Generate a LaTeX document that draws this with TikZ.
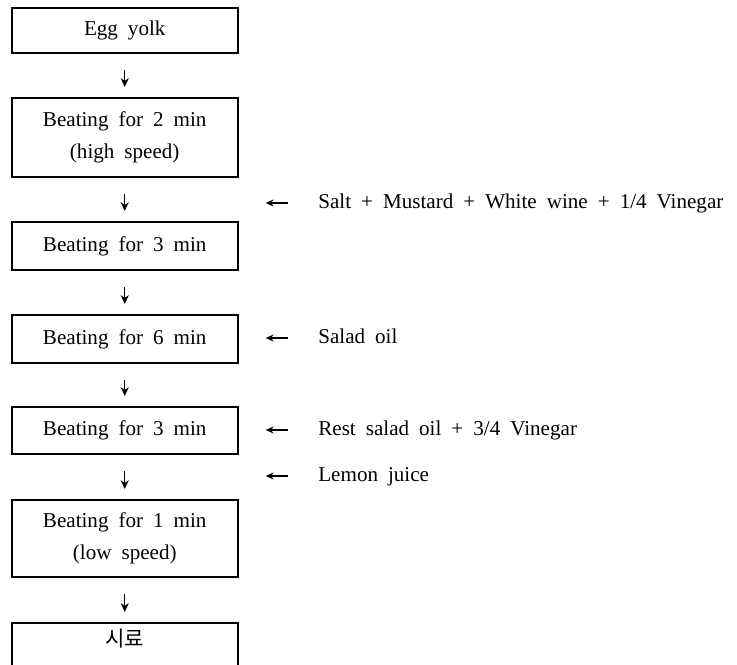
\documentclass[tikz,border=0pt]{standalone}
\usepackage{fontspec}
\setmainfont{Liberation Serif}[WordSpace=1.9]
\newfontfamily\korfont{Noto Sans CJK KR}
\usetikzlibrary{positioning, calc, arrows.meta}

\begin{document}
\begin{tikzpicture}[
        font=\fontsize{12}{18.5}\selectfont,
        stepbox/.style={draw, line width=1.1pt, minimum width=4.52cm, inner sep=0pt, align=center},
        addtext/.style={anchor=west, inner sep=0pt, text height=8pt, text depth=2pt},
        flow/.style={line width=0.6pt, -{Stealth[length=5pt,width=4.5pt,inset=1.5pt]}, shorten <=0.32cm, shorten >=0.2cm},
        feed/.style={line width=0.6pt, -{Stealth[length=4.5pt,width=4pt,inset=1.5pt]}, shorten <=0.6cm, shorten >=0.54cm}
    ]
        \useasboundingbox (0,0) rectangle (14.74,-13.3);

        % ===================================================
        % 1. PROCESS STEPS (left column)
        % ===================================================
        \node[stepbox, minimum height=0.91cm] (s1) at (2.495, -0.61) {Egg yolk};
        \node[stepbox, minimum height=1.58cm] (s2) at (2.495, -2.75) {Beating for 2 min\\(high speed)};
        \node[stepbox, minimum height=0.96cm] (s3) at (2.495, -4.92) {Beating for 3 min};
        \node[stepbox, minimum height=0.96cm] (s4) at (2.495, -6.78) {Beating for 6 min};
        \node[stepbox, minimum height=0.94cm] (s5) at (2.495, -8.61) {Beating for 3 min};
        \node[stepbox, minimum height=1.54cm] (s6) at (2.495, -10.77) {Beating for 1 min\\(low speed)};

        % Last box runs past the lower edge
        \node[stepbox, anchor=north, text height=0.47cm, text depth=0.7cm] (s7) at (2.495, -12.44) {\korfont 시료};

        % Down arrows between steps
        \draw[flow] (s1.south) -- (s2.north);
        \draw[flow] (s2.south) -- (s3.north);
        \draw[flow] (s3.south) -- (s4.north);
        \draw[flow] (s4.south) -- (s5.north);
        \draw[flow] (s5.south) -- (s6.north);
        \draw[flow] (s6.south) -- (s7.north);

        % ===================================================
        % 2. ADDED INGREDIENTS (right column)
        % ===================================================
        \node[addtext] (salt) at (6.36, -4.06) {Salt + Mustard + White wine + 1/4 Vinegar};
        \node[addtext] (oil) at (6.36, -6.76) {Salad oil};
        \node[addtext] (rest) at (6.36, -8.60) {Rest salad oil + 3/4 Vinegar};
        \node[addtext] (lemon) at (6.36, -9.52) {Lemon juice};

        % Side arrows pointing back to the column
        \draw[feed] (salt.west) -- (salt.west -| s2.east);
        \draw[feed] (oil.west) -- (oil.west -| s4.east);
        \draw[feed] (rest.west) -- (rest.west -| s5.east);
        \draw[feed] (lemon.west) -- (lemon.west -| s5.east);

    \end{tikzpicture}
\end{document}
